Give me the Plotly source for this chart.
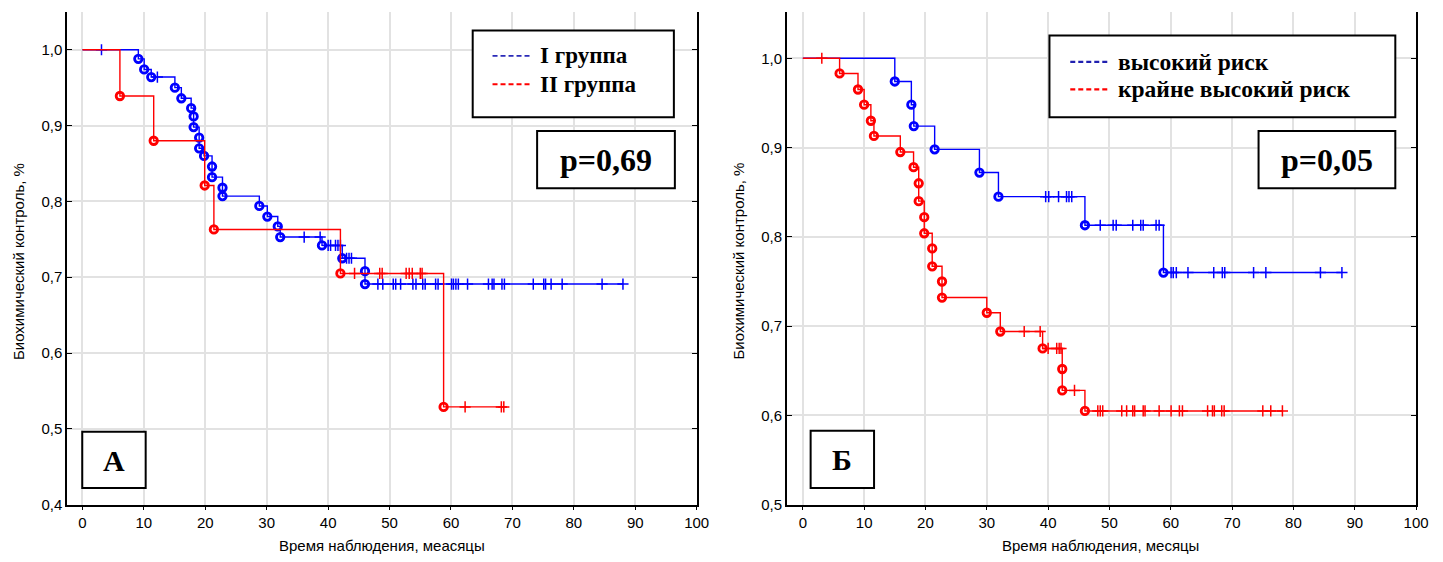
import plotly.graph_objects as go

W, H = 1443, 562

# ---------------- data: panel A ----------------
a_g1_event_t = [9.1, 10.05, 11.2, 15.05, 16.1, 17.7, 18.1, 18.1, 19.0, 19.0, 19.8, 21.1, 21.1,
                22.8, 22.8, 28.8, 30.1, 31.8, 32.2, 39.0, 42.3, 46.0, 46.0]
a_g1_event_s = [0.988, 0.974, 0.964, 0.950, 0.936, 0.923, 0.912, 0.898, 0.884, 0.870, 0.860, 0.846, 0.832,
                0.818, 0.807, 0.794, 0.780, 0.767, 0.753, 0.742, 0.725, 0.708, 0.691]
a_g1_censor_t = [3.1, 12.2, 36.1, 38.7, 40.0, 40.4, 41.2, 41.6, 42.0, 43.0, 43.4, 43.8,
                 48.1, 48.9, 50.6, 51.0, 51.8, 53.8, 54.3, 55.4, 55.8, 57.5, 57.9, 60.1, 60.4, 60.8,
                 61.2, 62.7, 66.1, 66.7, 67.0, 68.3, 68.7, 73.4, 75.1, 75.4, 76.3, 78.1, 84.6, 88.0]
a_g2_event_t = [6.1, 11.6, 19.9, 21.4, 42.0, 58.8]
a_g2_event_s = [0.939, 0.880, 0.821, 0.763, 0.705, 0.529]
a_g2_censor_t = [44.3, 48.4, 48.8, 52.7, 53.2, 53.7, 55.0, 55.3, 62.3, 68.2, 68.6]

# ---------------- data: panel Б ----------------
b_hi_event_t = [15.0, 17.7, 18.1, 21.5, 28.8, 31.9, 46.0, 58.8]
b_hi_event_s = [0.974, 0.948, 0.924, 0.898, 0.872, 0.845, 0.813, 0.760]
b_hi_censor_t = [39.6, 40.1, 41.7, 43.0, 43.4, 43.85, 48.5, 50.6, 51.1, 53.8, 55.1, 55.5, 57.6, 58.1,
                 60.05, 60.4, 60.9, 62.8, 67.0, 68.4, 68.8, 73.5, 75.5, 84.4, 87.9]
b_vhi_event_t = [6.0, 9.0, 10.0, 11.1, 11.6, 15.9, 18.06, 18.9, 18.9, 19.8, 19.8, 21.1, 21.1,
                 22.7, 22.7, 30.0, 32.2, 39.1, 42.3, 42.3, 46.0]
b_vhi_event_s = [0.983, 0.965, 0.948, 0.930, 0.913, 0.895, 0.878, 0.860, 0.840, 0.822, 0.804, 0.787, 0.767,
                 0.750, 0.732, 0.715, 0.694, 0.675, 0.652, 0.628, 0.605]
b_vhi_censor_t = [3.1, 36.1, 38.7, 40.0, 41.4, 41.8, 42.1, 44.3, 48.1, 48.5, 48.9, 52.0, 52.8, 53.8, 54.1,
                  55.5, 55.8, 58.1, 60.05, 61.4, 61.9, 66.0, 66.8, 67.1, 68.3, 68.7, 75.0, 76.3, 78.2]

x_ticks = [0, 10, 20, 30, 40, 50, 60, 70, 80, 90, 100]
a_y_ticks = [0.4, 0.5, 0.6, 0.7, 0.8, 0.9, 1.0]
b_y_ticks = [0.5, 0.6, 0.7, 0.8, 0.9, 1.0]

legend_a = ["I группа", "II группа"]
legend_b = ["высокий риск", "крайне высокий риск"]
p_a, p_b = "p=0,69", "p=0,05"
ytitle = "Биохимический контроль, %"
xtitle_a = "Время наблюдения, меасяцы"
xtitle_b = "Время наблюдения, месяцы"

BLUE, RED = "#0000ff", "#ff0000"


def surv_at(ev_t, ev_s, t):
    s = 1.0
    for et, es in zip(ev_t, ev_s):
        if et <= t:
            s = es
    return s


fig = go.Figure()


def add_group(ev_t, ev_s, cen_t, color, xa, ya):
    end_t = max(cen_t + ev_t)
    lx = [0] + ev_t + [end_t]
    ly = [1.0] + ev_s + [ev_s[-1]]
    fig.add_trace(go.Scatter(x=lx, y=ly, mode="lines", line=dict(color=color, width=1.4, shape="hv"),
                             xaxis=xa, yaxis=ya, showlegend=False, hoverinfo="skip"))
    fig.add_trace(go.Scatter(x=cen_t, y=[surv_at(ev_t, ev_s, t) for t in cen_t], mode="markers",
                             marker=dict(symbol="cross-thin", size=8, line=dict(color=color, width=1.5)),
                             xaxis=xa, yaxis=ya, showlegend=False, hoverinfo="skip"))
    fig.add_trace(go.Scatter(x=ev_t, y=ev_s, mode="markers",
                             marker=dict(symbol="circle-open", size=7.5, color=color, line=dict(color=color, width=2.8)),
                             xaxis=xa, yaxis=ya, showlegend=False, hoverinfo="skip"))


add_group(a_g1_event_t, a_g1_event_s, a_g1_censor_t, BLUE, "x", "y")
add_group(a_g2_event_t, a_g2_event_s, a_g2_censor_t, RED, "x", "y")
add_group(b_hi_event_t, b_hi_event_s, b_hi_censor_t, BLUE, "x2", "y2")
add_group(b_vhi_event_t, b_vhi_event_s, b_vhi_censor_t, RED, "x2", "y2")

tickfont = dict(family="Liberation Sans, Arial", size=15, color="#000")
GRID = "#e2e2e2"


def px(x):
    return x / W


def py(y):
    return 1 - y / H


xcommon = dict(tickvals=x_ticks, showgrid=True, gridcolor=GRID, gridwidth=1.5, zeroline=False,
               showline=True, linecolor="#000", linewidth=1.5, ticks="outside", ticklen=4,
               tickcolor="#000", tickfont=tickfont)
ycommon = dict(showgrid=True, gridcolor=GRID, gridwidth=1.5, zeroline=False, showline=True,
               linecolor="#000", linewidth=1.5, ticks="inside", ticklen=5, tickcolor="#000",
               mirror="ticks", tickformat=".1f", tickfont=tickfont)

fig.update_layout(
    width=W, height=H, autosize=False, margin=dict(l=0, r=0, t=0, b=0),
    paper_bgcolor="white", plot_bgcolor="white", separators=",.",
    xaxis=dict(domain=[px(67.7), px(703)], range=[-2.5, 100], anchor="y", **xcommon),
    yaxis=dict(domain=[py(512), py(12)], range=[0.4, 1.05], tickvals=a_y_ticks, anchor="x", **ycommon),
    xaxis2=dict(domain=[px(794), px(1429)], range=[-2.6, 100], anchor="y2", **xcommon),
    yaxis2=dict(domain=[py(512), py(12)], range=[0.5, 1.052], tickvals=b_y_ticks, anchor="x2", **ycommon),
)

shapes = []
annos = []


def box(x0, y0, x1, y1):
    shapes.append(dict(type="rect", xref="paper", yref="paper", x0=px(x0), x1=px(x1), y0=py(y1), y1=py(y0),
                       line=dict(color="#000", width=2), fillcolor="white", layer="above"))


def text(x, y, s, size, anchor="center", family="Liberation Serif, Times New Roman", bold=True, angle=0):
    annos.append(dict(xref="paper", yref="paper", x=px(x), y=py(y), text=("<b>%s</b>" % s) if bold else s,
                      showarrow=False, xanchor=anchor, yanchor="middle", textangle=angle,
                      font=dict(family=family, size=size, color="#000")))


def legline(x0, x1, y, color, width):
    shapes.append(dict(type="line", xref="paper", yref="paper", x0=px(x0), x1=px(x1), y0=py(y), y1=py(y),
                       line=dict(color=color, width=width, dash="5px,3px"), layer="above"))


# Panel A boxes
box(477, 31, 680, 119)
legline(497, 535, 56.7, "#2a2ab8", 1.6)
legline(497, 535, 85.5, RED, 2)
text(543, 56.7, legend_a[0], 23, anchor="left")
text(543, 85.5, legend_a[1], 23, anchor="left")
box(542, 133, 681, 191)
text(611.5, 162, p_a, 32)
box(83, 438, 147, 495)
text(115, 467, "А", 30)

# Panel Б boxes
box(1059, 36, 1408, 119)
legline(1080, 1118, 62.7, "#2020b0", 2.2)
legline(1080, 1118, 90.7, RED, 2.2)
text(1126, 62.7, legend_b[0], 23.5, anchor="left")
text(1126, 90.7, legend_b[1], 23.5, anchor="left")
box(1270, 133, 1408, 191)
text(1339, 162, p_b, 32)
box(818, 437, 882, 495)
text(850, 466, "Б", 30)

# axis titles
sans = "Liberation Sans, Arial"
text(18, 265, ytitle, 15, family=sans, bold=False, angle=-90)
text(745, 265, ytitle, 15, family=sans, bold=False, angle=-90)
text(385, 553, xtitle_a, 15, family=sans, bold=False)
text(1111, 553, xtitle_b, 15, family=sans, bold=False)

fig.update_layout(shapes=shapes, annotations=annos)
post = ("document.body.style.margin='0';document.body.style.overflow='hidden';"
        "var gd=document.getElementById('{plot_id}');"
        "Plotly.relayout(gd,{width:window.innerWidth,height:window.innerHeight});")
fig.write_html("out.html", config={"responsive": False, "displayModeBar": False}, post_script=post)
